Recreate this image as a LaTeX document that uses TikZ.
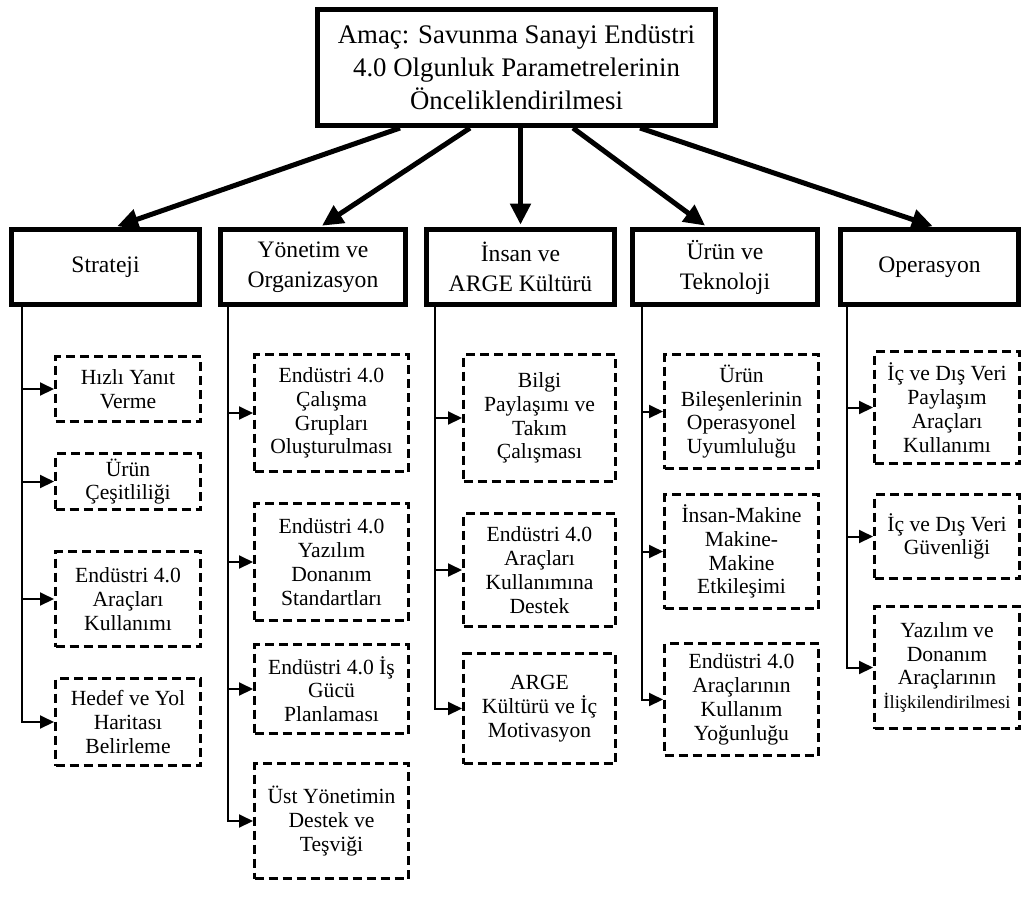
\documentclass[tikz,border=0pt]{standalone}
\usepackage{fontspec}
\setmainfont{Liberation Serif}
\usetikzlibrary{arrows.meta}
\begin{document}
\begin{tikzpicture}[x=0.5pt,y=-0.5pt,
    goal/.style={draw,line width=2.5pt,minimum width=199pt,minimum height=58pt,inner sep=0pt,align=center,font=\fontsize{13.4}{16.6}\selectfont},
    dimension/.style={draw,line width=2.5pt,minimum height=37.5pt,inner sep=0pt,align=center,font=\fontsize{11.8}{15}\selectfont},
    criterion/.style={draw,line width=1.5pt,dash pattern=on 4.5pt off 2.5pt,inner sep=0pt,align=center,font=\fontsize{10.8}{11.9}\selectfont},
    mainarrow/.style={line width=2.5pt,shorten >=1.2pt,-{Triangle[length=10.5pt,width=10pt]}},
    branch/.style={line width=1pt,-{Triangle[length=7pt,width=6.5pt]}}]
    \useasboundingbox (0,0) rectangle (1024,896);
    % goal
    \node[goal] (goal) at (516.5,67.5) {Amaç: Savunma Sanayi Endüstri\\4.0 Olgunluk Parametrelerinin\\Önceliklendirilmesi};
    % dimensions
    \node[dimension,minimum width=94pt] (strateji) at (105.5,267) {Strateji};
    \node[dimension,minimum width=92.5pt] (yonetim) at (313,267) {Yönetim ve\\Organizasyon};
    \node[dimension,minimum width=94pt] (insan) at (520.5,267) {İnsan ve\\ARGE Kültürü};
    \node[dimension,minimum width=92.5pt] (urun) at (725,267) {Ürün ve\\Teknoloji};
    \node[dimension,minimum width=89pt] (operasyon) at (929.5,267) {Operasyon};
    \draw[mainarrow] ([xshift=-58.25pt]goal.south) -- ([xshift=4.75pt]strateji.north);
    \draw[mainarrow] ([xshift=-23.25pt]goal.south) -- ([xshift=3.5pt]yonetim.north);
    \draw[mainarrow] ([xshift=2pt]goal.south) -- (insan.north);
    \draw[mainarrow] ([xshift=28.25pt]goal.south) -- ([xshift=-9pt]urun.north);
    \draw[mainarrow] ([xshift=61.75pt]goal.south) -- ([xshift=2.75pt]operasyon.north);
    % Strateji
    \node[criterion,minimum width=72.5pt,minimum height=32.5pt] (s1) at (128,389) {Hızlı Yanıt\\Verme};
    \node[criterion,minimum width=72.5pt,minimum height=28pt] (s2) at (128,481.5) {Ürün\\Çeşitliliği};
    \node[criterion,minimum width=72.5pt,minimum height=47.5pt] (s3) at (128,599) {Endüstri 4.0\\Araçları\\Kullanımı};
    \node[criterion,minimum width=72.5pt,minimum height=43.5pt] (s4) at (128,722) {Hedef ve Yol\\Haritası\\Belirleme};
    \coordinate (ps) at (22,305);
    \foreach \c in {s1,s2,s3,s4} \draw[branch] (ps) |- (\c.west);
    % Yonetim ve Organizasyon
    \node[criterion,minimum width=77pt,minimum height=58.5pt] (y1) at (331.5,413) {Endüstri 4.0\\Çalışma\\Grupları\\Oluşturulması};
    \node[criterion,minimum width=77pt,minimum height=58.5pt] (y2) at (331.5,562) {Endüstri 4.0\\Yazılım\\Donanım\\Standartları};
    \node[criterion,minimum width=77pt,minimum height=44.5pt] (y3) at (331.5,689) {Endüstri 4.0 İş\\Gücü\\Planlaması};
    \node[criterion,minimum width=77pt,minimum height=57.5pt] (y4) at (331.5,821) {Üst Yönetimin\\Destek ve\\Teşviği};
    \coordinate (py) at (228,305);
    \foreach \c in {y1,y2,y3,y4} \draw[branch] (py) |- (\c.west);
    % Insan ve ARGE Kulturu
    \node[criterion,minimum width=76pt,minimum height=63.5pt] (i1) at (539.5,418) {Bilgi\\Paylaşımı ve\\Takım\\Çalışması};
    \node[criterion,minimum width=76pt,minimum height=56.5pt] (i2) at (539.5,570) {Endüstri 4.0\\Araçları\\Kullanımına\\Destek};
    \node[criterion,minimum width=76pt,minimum height=55pt] (i3) at (539.5,708.5) {ARGE\\Kültürü ve İç\\Motivasyon};
    \coordinate (pi) at (435,305);
    \foreach \c in {i1,i2,i3} \draw[branch] (pi) |- (\c.west);
    % Urun ve Teknoloji
    \node[criterion,minimum width=77pt,minimum height=57pt] (u1) at (741.5,411.5) {Ürün\\Bileşenlerinin\\Operasyonel\\Uyumluluğu};
    \node[criterion,minimum width=77pt,minimum height=57pt] (u2) at (741.5,551.5) {İnsan-Makine\\Makine-\\Makine\\Etkileşimi};
    \node[criterion,minimum width=77pt,minimum height=56pt] (u3) at (741.5,699.5) {Endüstri 4.0\\Araçlarının\\Kullanım\\Yoğunluğu};
    \coordinate (pu) at (642,305);
    \foreach \c in {u1,u2,u3} \draw[branch] (pu) |- (\c.west);
    % Operasyon
    \node[criterion,minimum width=72.5pt,minimum height=56pt] (o1) at (947,407.5) {İç ve Dış Veri\\Paylaşım\\Araçları\\Kullanımı};
    \node[criterion,minimum width=72.5pt,minimum height=42pt] (o2) at (947,536.5) {İç ve Dış Veri\\Güvenliği};
    \node[criterion,minimum width=72.5pt,minimum height=61pt] (o3) at (947,667.5) {Yazılım ve\\Donanım\\Araçlarının\\{\fontsize{9.3}{11.9}\selectfont İlişkilendirilmesi}};
    \coordinate (po) at (847,305);
    \foreach \c in {o1,o2,o3} \draw[branch] (po) |- (\c.west);
\end{tikzpicture}
\end{document}
